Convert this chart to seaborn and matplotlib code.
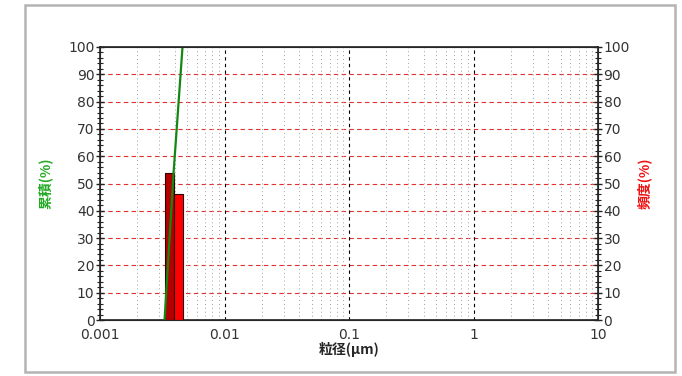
import numpy as np
import pandas as pd
import matplotlib
matplotlib.use("Agg")
import matplotlib.pyplot as plt
from matplotlib.patches import Rectangle
from matplotlib.ticker import LogLocator, MultipleLocator
import seaborn as sns

# ===================== data =====================
bin_left = [0.0033, 0.0039]
bin_right = [0.0039, 0.0046]
freq = [54, 46]                      # 頻度(%)
bar_colors = ['#b40000', '#ff0000']

cum_x = [0.0033, 0.0039, 0.0046]
cum_y = [0, 54, 100]                 # 累積(%)

x_ticks = [0.001, 0.01, 0.1, 1, 10]
x_ticklabels = ['0.001', '0.01', '0.1', '1', '10']
y_ticks = [0, 10, 20, 30, 40, 50, 60, 70, 80, 90, 100]

# ===================== style =====================
sns.set_style('white')
plt.rcParams['font.family'] = ['DejaVu Sans', 'Noto Sans CJK JP']
plt.rcParams['font.size'] = 10

fig = plt.figure(figsize=(6.82, 3.76), dpi=100)
fig.patches.append(Rectangle((25 / 682, 4 / 376), 650 / 682, 367 / 376,
                             transform=fig.transFigure, fill=False,
                             edgecolor='#b4b4b4', linewidth=1.8))

ax = fig.add_axes([100 / 682, 56 / 376, 498 / 682, 273 / 376])
ax.set_xscale('log')
ax.set_xlim(0.001, 10)
ax.set_ylim(0, 100)

# grid
ax.set_yticks(y_ticks)
for y in y_ticks[1:-1]:
    ax.axhline(y, color='#e03030', linestyle=(0, (4, 3)), linewidth=0.8, zorder=0)
for x in x_ticks[1:-1]:
    ax.axvline(x, color='black', linestyle=(0, (3, 3)), linewidth=0.8, zorder=0)
ax.xaxis.set_minor_locator(LogLocator(base=10, subs=np.arange(2, 10)))
ax.grid(which='minor', axis='x', color='#a0a0a0', linestyle=(0, (1, 3)), linewidth=0.7)

# bars
widths = [r - l for l, r in zip(bin_left, bin_right)]
ax.bar(bin_left, freq, width=widths, align='edge', color=bar_colors,
       edgecolor='#300000', linewidth=0.8, zorder=3)

# cumulative line
cum = pd.DataFrame({'x': cum_x, 'y': cum_y})
sns.lineplot(data=cum, x='x', y='y', ax=ax, color='#118811', linewidth=1.6, zorder=4)

# ticks
ax.set_xticks(x_ticks)
ax.set_xticklabels(x_ticklabels)
ax.yaxis.set_minor_locator(MultipleLocator(2))
ax.tick_params(axis='both', which='major', direction='inout', length=6, width=1,
               colors='#222222', labelcolor='#333333', labelsize=10, pad=1)
ax.tick_params(axis='x', which='major', pad=3)
ax.tick_params(axis='both', which='minor', direction='inout', length=4, width=0.8,
               colors='#222222')
for s in ax.spines.values():
    s.set_color('#222222')
    s.set_linewidth(1.2)

ax2 = ax.twinx()
ax2.set_ylim(0, 100)
ax2.set_yticks(y_ticks)
ax2.yaxis.set_minor_locator(MultipleLocator(2))
ax2.tick_params(axis='y', which='major', direction='inout', length=6, width=1,
                colors='#222222', labelcolor='#333333', labelsize=10, pad=1)
ax2.tick_params(axis='y', which='minor', direction='inout', length=4, width=0.8,
                colors='#222222')

cjk = ['Noto Sans CJK JP', 'DejaVu Sans']
ax.set_xlabel('粒径(μm)', family=cjk, fontsize=10, fontweight='bold', labelpad=0)
ax.set_ylabel('累積(%)', family=cjk, fontsize=10, fontweight='bold',
              color='#22aa22', labelpad=11)
ax2.set_ylabel('頻度(%)', family=cjk, fontsize=10, fontweight='bold',
               color='#ee1111', rotation=90, labelpad=5)

fig.savefig('out.png', dpi=100)
